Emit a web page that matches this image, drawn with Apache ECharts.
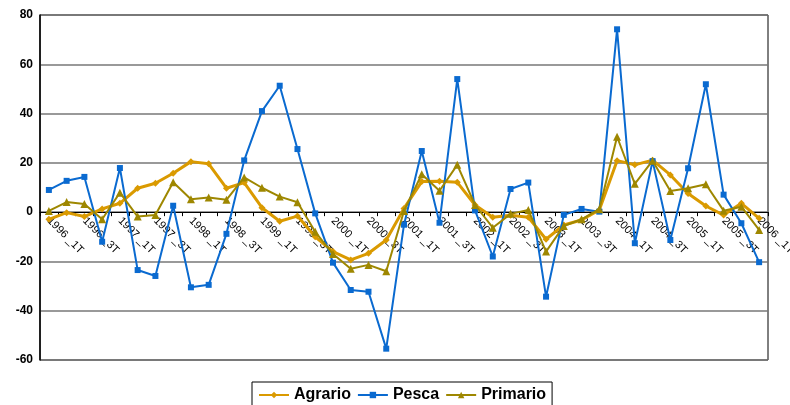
<!DOCTYPE html>
<html>
<head>
<meta charset="utf-8">
<script src="https://cdn.jsdelivr.net/npm/echarts@6/dist/echarts.min.js"></script>
<style>
html, body { margin: 0; padding: 0; background: #fff; }
#chart { width: 790px; height: 405px; }
</style>
</head>
<body>
<div id="chart"></div>
<script>
var years = ['1996', '1997', '1998', '1999', '2000', '2001', '2002', '2003', '2004', '2005', '2006'];
var quarters = ['1T', '2T', '3T', '4T'];

// trimestres 1996 _1T ... 2006 _1T
var categories = [];
years.forEach(function(y) {
	quarters.forEach(function(q) {
		if (categories.length < 41) categories.push(y + ' _' + q);
	});
});

var agrario = [-2.9, -0.2, -1.8, 1.3, 3.6, 9.7, 11.7, 15.8, 20.5, 19.6, 9.7, 12, 1.8, -3.7, -1.6, -10, -16, -19.4, -16.7, -11.3,
	1.5, 12.4, 12.5, 12.1, 2.9, -2.1, -1.3, -2.1, -11, -5.2, -3.2, 0.9, 20.9, 19.2, 21.1, 15.1, 7.6, 2.5, -1.2, 3.6, -2.5];
var pesca = [9, 12.7, 14.3, -12, 17.9, -23.5, -25.9, 2.6, -30.5, -29.5, -8.8, 21, 41, 51.3, 25.6, -0.5, -20.5, -31.6, -32.3, -55.4,
	-5.1, 24.8, -4.3, 54, 0.7, -18, 9.4, 12, -34.3, -1.1, 1.3, 0.2, 74.2, -12.6, 20.7, -11.3, 17.8, 51.9, 7.1, -4.5, -20.3];
var primario = [0.5, 4.1, 3.3, -2.9, 7.9, -1.8, -1.2, 12.1, 5.2, 5.9, 5, 14.1, 9.9, 6.3, 4, -8, -17, -23, -21.4, -24,
	0.5, 15.4, 8.7, 19.2, 2.9, -6.3, -0.7, 0.9, -16, -5.6, -2.9, 1.2, 30.6, 11.5, 20.9, 8.6, 9.7, 11.3, 0.6, 2.2, -7.2];

var yMin = -60, yMax = 80;
var gridTop = 15, gridBottom = 45;
var gridH = 405 - gridTop - gridBottom;
// distancia del eje 0 al borde inferior
var zeroOffset = gridH * (0 - yMin) / (yMax - yMin);

var myChart = echarts.init(document.getElementById('chart'));

var option = {
	animation: false,
	textStyle: { fontFamily: 'Liberation Sans, Arial, sans-serif' },
	grid: {
		left: 40,
		right: 22,
		top: gridTop,
		bottom: gridBottom,
		outerBoundsMode: 'none',
		containLabel: false,
		show: true,
		borderColor: '#000',
		borderWidth: 1
	},
	legend: {
		bottom: -6,
		left: 252,
		data: ['Agrario', 'Pesca', 'Primario'],
		borderColor: '#000',
		borderWidth: 1,
		padding: [5, 6, 8, 6],
		itemWidth: 30,
		itemHeight: 8,
		itemGap: 6,
		textStyle: { fontSize: 16, fontWeight: 'bold', color: '#000' }
	},
	xAxis: {
		type: 'category',
		data: categories,
		offset: -zeroOffset,
		axisLine: { onZero: false, lineStyle: { color: '#000', width: 1 } },
		axisTick: { show: true, interval: 0, length: 4, lineStyle: { color: '#000' } },
		axisLabel: {
			interval: 1,
			rotate: -45,
			fontSize: 11,
			color: '#000',
			margin: 7
		},
		splitLine: { show: false }
	},
	yAxis: {
		type: 'value',
		min: yMin,
		max: yMax,
		interval: 20,
		axisLine: { show: true, lineStyle: { color: '#000', width: 1.5 } },
		axisTick: { show: false },
		axisLabel: { fontSize: 12, fontWeight: 'bold', color: '#000', margin: 7 },
		splitLine: { lineStyle: { color: '#777', width: 1.5 } }
	},
	series: [
		{
			name: 'Agrario',
			type: 'line',
			data: agrario,
			symbol: 'diamond',
			symbolSize: 7,
			z: 2,
			itemStyle: { color: '#DA9A00' },
			lineStyle: { color: '#DA9A00', width: 3 }
		},
		{
			name: 'Pesca',
			type: 'line',
			data: pesca,
			symbol: 'rect',
			symbolSize: 6,
			z: 3,
			itemStyle: { color: '#0A6AD0' },
			lineStyle: { color: '#0A6AD0', width: 2 }
		},
		{
			name: 'Primario',
			type: 'line',
			data: primario,
			symbol: 'triangle',
			symbolSize: 8,
			z: 4,
			itemStyle: { color: '#9E8700' },
			lineStyle: { color: '#9E8700', width: 2 }
		}
	]
};
myChart.setOption(option);

window.onresize = function() {
	myChart.resize();
};
</script>
</body>
</html>
